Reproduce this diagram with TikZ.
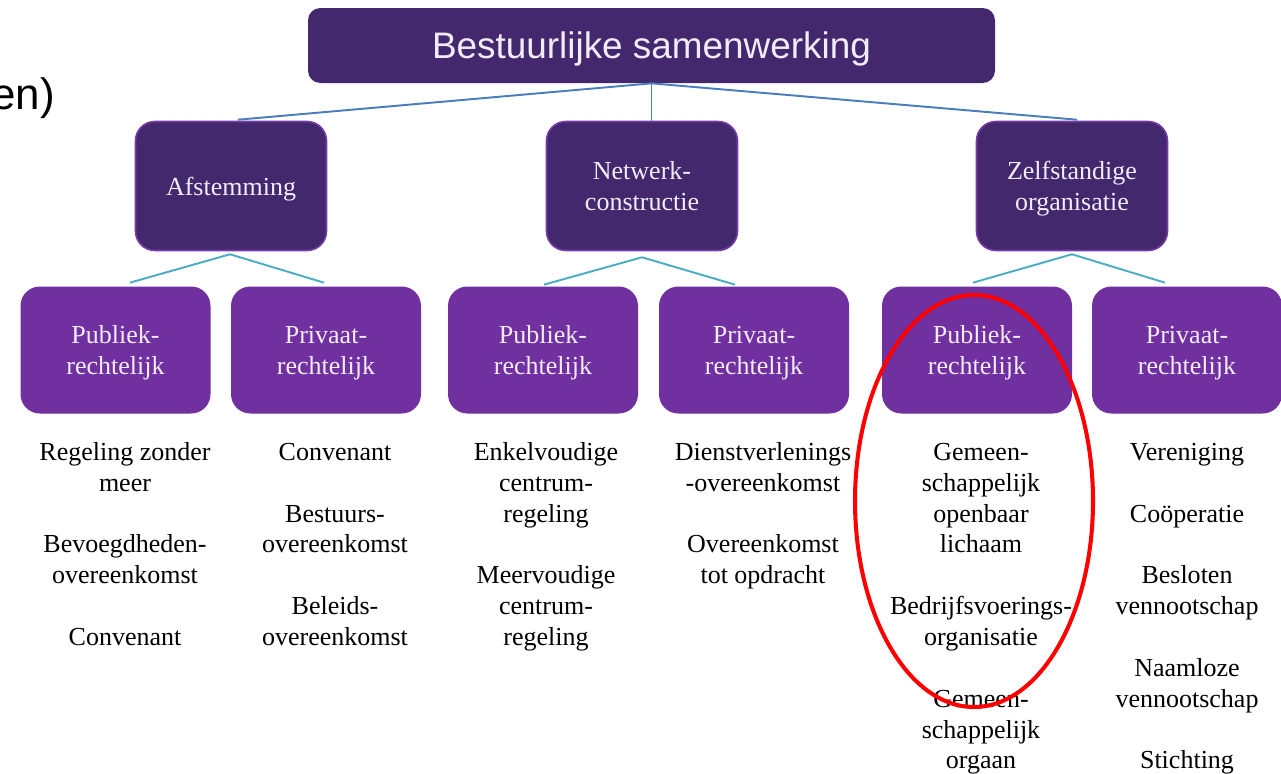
\documentclass[tikz,border=0pt]{standalone}
\usepackage{fontspec}
\setmainfont{Liberation Serif}
\newfontfamily\titlefont{Liberation Sans}
\usetikzlibrary{calc,shapes.geometric}
\definecolor{darkp}{RGB}{67,40,110}
\definecolor{borderp}{RGB}{120,60,170}
\definecolor{midp}{RGB}{112,48,160}
\definecolor{lighttxt}{RGB}{242,236,248}
\definecolor{bluel}{RGB}{74,126,187}
\definecolor{teall}{RGB}{75,172,198}
\definecolor{ringred}{RGB}{255,0,0}
\tikzset{
  serif/.style={font=\fontsize{14.8}{17.57}\selectfont},
  topbox/.style={draw=none, fill=darkp, rounded corners=7pt, minimum width=687*0.02cm, minimum height=75*0.02cm, inner sep=0pt, text=lighttxt, text depth=0pt, font=\titlefont\fontsize{21}{24}\selectfont},
  midbox/.style={draw=borderp, line width=0.9pt, fill=darkp, rounded corners=11pt, minimum width=191*0.02cm, minimum height=129*0.02cm, inner sep=0pt, text=lighttxt, text depth=0pt, align=center, serif},
  lowbox/.style={draw=none, fill=midp, rounded corners=11pt, minimum width=190*0.02cm, minimum height=127*0.02cm, inner sep=0pt, text=lighttxt, text depth=0pt, align=center, serif},
  toplink/.style={draw=bluel, line width=1.1pt},
  lowlink/.style={draw=teall, line width=1.1pt},
  itemcol/.style={anchor=north, inner sep=0pt, align=center, text=black, serif},
  ring/.style={draw=ringred, line width=2.3pt, ellipse, minimum width=238*0.02cm, minimum height=412*0.02cm, inner sep=0pt}
}
\begin{document}
\begin{tikzpicture}[x=0.02cm,y=-0.02cm]
\useasboundingbox (0,0) rectangle (1281,774);
% stray text at top left
\node[anchor=base east, inner sep=0pt, font=\titlefont\fontsize{25}{28}\selectfont, text=black] (frag) at (55,109) {en)};
% top
\node[topbox] (T) at (651.5,45.5) {Bestuurlijke samenwerking};
% level 2
\node[midbox] (A) at (231,186) {Afstemming};
\node[midbox] (N) at (642,186) {Netwerk-\\constructie};
\node[midbox] (Z) at (1072,186) {Zelfstandige\\organisatie};
% level 3
\node[lowbox] (P1) at (115.5,350) {Publiek-\\rechtelijk};
\node[lowbox] (P2) at (326,350) {Privaat-\\rechtelijk};
\node[lowbox] (N1) at (543,350) {Publiek-\\rechtelijk};
\node[lowbox] (N2) at (754,350) {Privaat-\\rechtelijk};
\node[lowbox] (Z1) at (977,350) {Publiek-\\rechtelijk};
\node[lowbox] (Z2) at (1187,350) {Privaat-\\rechtelijk};
% connectors
\draw[toplink] ($(A.north)+(7,-1)$) -- (T.south) -- ($(Z.north)+(5,-1)$);
\draw[toplink] (T.south) -- (T.south |- N.north);
\coordinate (a0) at ($(A.south)+(-1,3)$);
\draw[lowlink] ($(P1.north)+(14.5,-3.5)$) -- (a0) -- ($(P2.north)+(-2,-3.5)$);
\coordinate (n0) at ($(N.south)+(0,6)$);
\draw[lowlink] ($(N1.north)+(1,-1.5)$) -- (n0) -- ($(N2.north)+(-19,-1.5)$);
\coordinate (z0) at ($(Z.south)+(0,3)$);
\draw[lowlink] ($(Z1.north)+(-4,-3.5)$) -- (z0) -- ($(Z2.north)+(-22,-3.5)$);
% item lists
\node[itemcol] (c1) at (125,438.3) {\strut Regeling zonder\\meer\\[17.57pt]Bevoegdheden-\\overeenkomst\\[17.57pt]Convenant};
\node[itemcol] (c2) at (335,438.3) {\strut Convenant\\[17.57pt]Bestuurs-\\overeenkomst\\[17.57pt]Beleids-\\overeenkomst};
\node[itemcol] (c3) at (546,438.3) {\strut Enkelvoudige\\centrum-\\regeling\\[17.57pt]Meervoudige\\centrum-\\regeling};
\node[itemcol] (c4) at (763,438.3) {\strut Dienstverlenings\\-overeenkomst\\[17.57pt]Overeenkomst\\tot opdracht};
\node[itemcol] (c5) at (981,438.3) {\strut Gemeen-\\schappelijk\\openbaar\\lichaam\\[17.57pt]Bedrijfsvoerings-\\organisatie\\[17.57pt]Gemeen-\\schappelijk\\orgaan};
\node[itemcol] (c6) at (1187,438.3) {\strut Vereniging\\[17.57pt]Coöperatie\\[17.57pt]Besloten\\vennootschap\\[17.57pt]Naamloze\\vennootschap\\[17.57pt]Stichting};
% red ring
\node[ring] (R) at (974,501) {};
\end{tikzpicture}
\end{document}
